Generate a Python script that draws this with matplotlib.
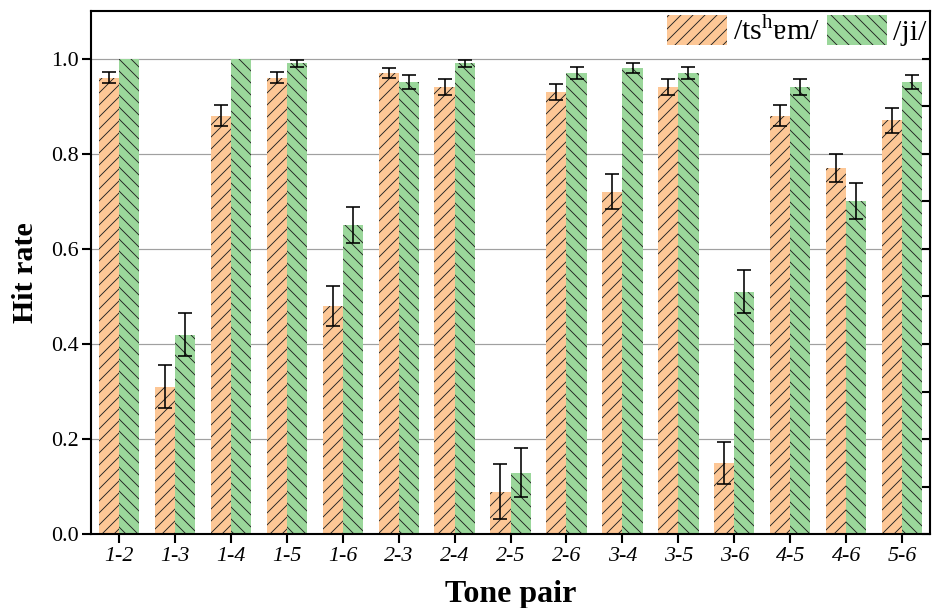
import numpy as np
import matplotlib.pyplot as plt

plt.rcParams['font.family'] = ['Liberation Serif', 'DejaVu Serif']
plt.rcParams['mathtext.fontset'] = 'custom'
plt.rcParams['mathtext.rm'] = 'Liberation Serif'
plt.rcParams['hatch.linewidth'] = 0.9

pairs = ['1-2', '1-3', '1-4', '1-5', '1-6', '2-3', '2-4', '2-5', '2-6',
         '3-4', '3-5', '3-6', '4-5', '4-6', '5-6']
tsham = [0.96, 0.31, 0.88, 0.96, 0.48, 0.97, 0.94, 0.09, 0.93,
         0.72, 0.94, 0.15, 0.88, 0.77, 0.87]
tsham_err = [0.012, 0.045, 0.022, 0.012, 0.042, 0.010, 0.017, 0.057, 0.017,
             0.037, 0.017, 0.045, 0.022, 0.030, 0.027]
ji = [1.00, 0.42, 1.00, 0.99, 0.65, 0.95, 0.99, 0.13, 0.97,
      0.98, 0.97, 0.51, 0.94, 0.70, 0.95]
ji_err = [0.0, 0.045, 0.0, 0.007, 0.038, 0.015, 0.007, 0.052, 0.012,
          0.010, 0.012, 0.045, 0.017, 0.038, 0.015]

# dpi 72 so the hatch spacing (12 px) matches the reference
fig = plt.figure(figsize=(932/72, 608/72), dpi=72)
ax = fig.add_axes([0.0976, 0.121, 0.9004, 0.861])

x = np.arange(len(pairs))
w = 0.36
ax.grid(axis='y', color='#a0a0a0', linewidth=1.2, zorder=0)
ax.bar(x - w/2, tsham, w, color='#fdc796', hatch='//', edgecolor='#222222',
       linewidth=0, label='/ts$^{\\mathrm{h}}$ɐm/', zorder=2)
ax.bar(x + w/2, ji, w, color='#9bd79b', hatch='\\\\', edgecolor='#222222',
       linewidth=0, label='/ji/', zorder=2)
ax.errorbar(x - w/2, tsham, yerr=tsham_err, fmt='none', ecolor='black',
            elinewidth=1.6, capsize=7, capthick=1.6, zorder=3)
ji_e = np.array(ji_err)
ax.errorbar((x + w/2)[ji_e > 0], np.array(ji)[ji_e > 0], yerr=ji_e[ji_e > 0],
            fmt='none', ecolor='black', elinewidth=1.6, capsize=7,
            capthick=1.6, zorder=3)

ax.set_xlim(-0.5, 14.5)
ax.set_ylim(0, 1.1)
ax.set_xticks(x)
ax.set_xticklabels(pairs, fontstyle='italic', fontsize=22)
ax.set_yticks(np.arange(0, 1.01, 0.2))
ax.set_yticklabels(['0.0', '0.2', '0.4', '0.6', '0.8', '1.0'], fontsize=22)
ax.tick_params(axis='both', direction='out', length=9, width=2.1)

for s in ax.spines.values():
    s.set_linewidth(2.1)

# right axis: ticks only, inward, every 0.1
ax2 = ax.twinx()
ax2.set_ylim(0, 1.1)
ax2.set_yticks(np.arange(0, 1.01, 0.1))
ax2.tick_params(axis='y', direction='in', length=8, width=2.1, labelright=False)

ax.set_xlabel('Tone pair', fontsize=32, fontweight='bold', labelpad=14)
ax.set_ylabel('Hit rate', fontsize=30, fontweight='bold', labelpad=12)

ax.legend(loc='upper right', ncol=2, frameon=False, fontsize=30,
          handlelength=2.0, handleheight=1.2, columnspacing=0.25,
          handletextpad=0.2, borderpad=0.12, borderaxespad=0.0,
          bbox_to_anchor=(1.0, 1.0))

fig.savefig('out.png', dpi=72)
